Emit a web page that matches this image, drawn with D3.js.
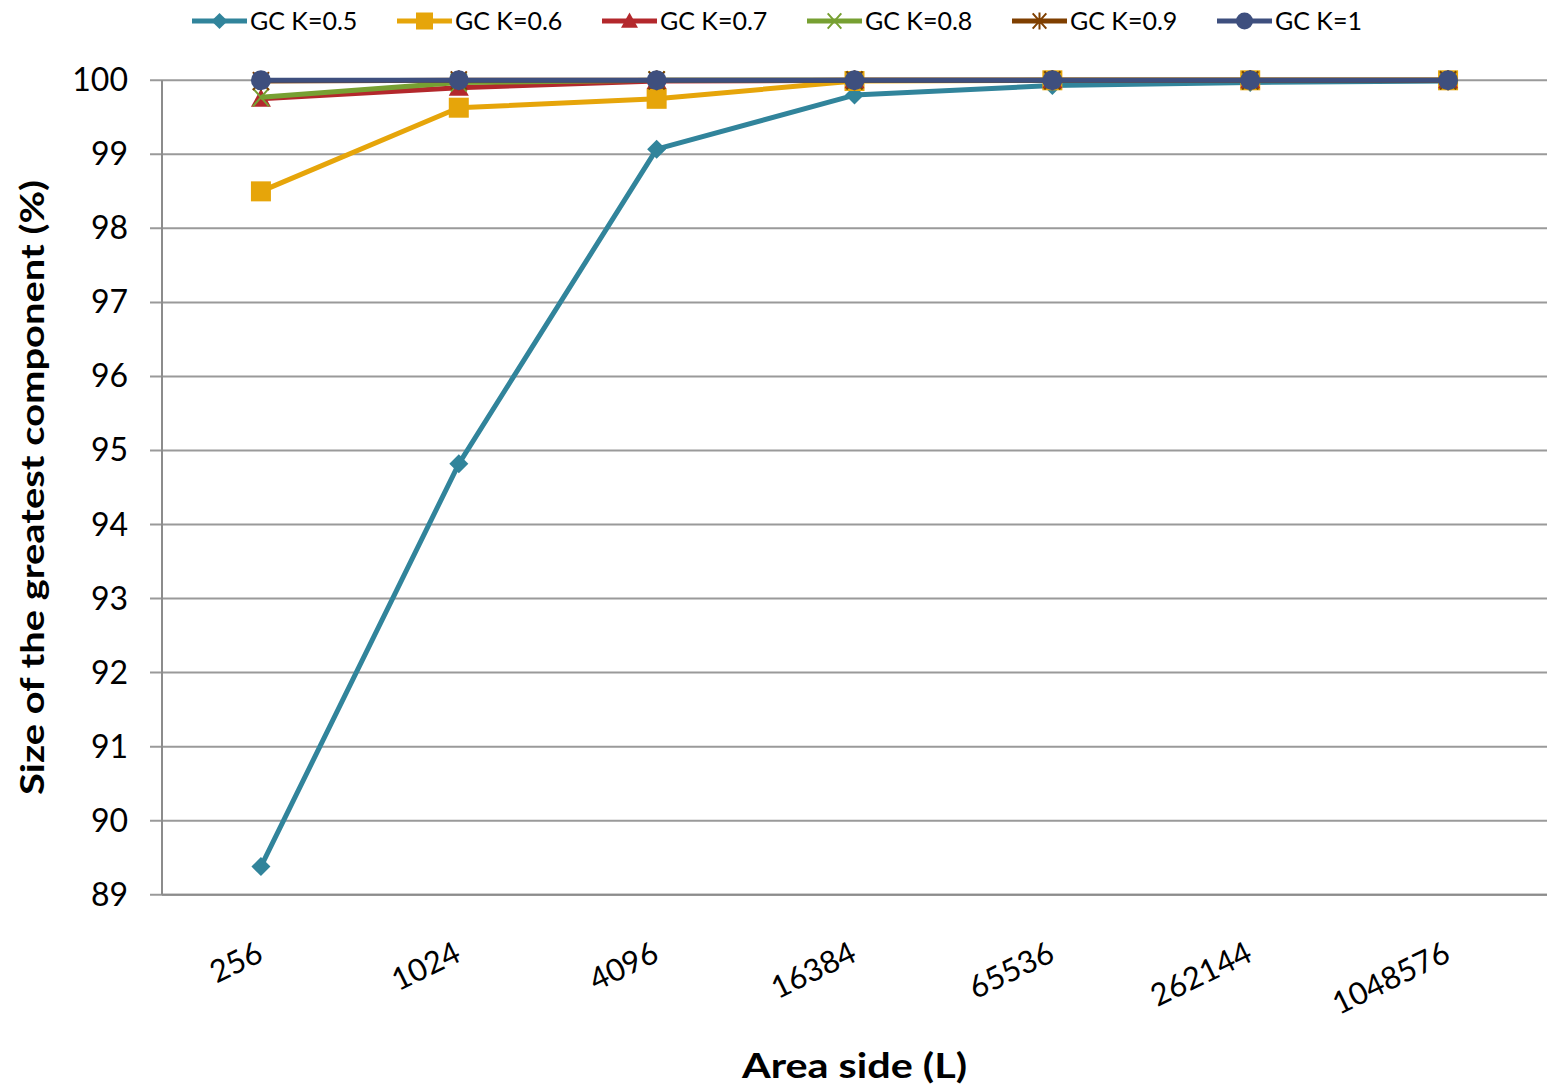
<!DOCTYPE html>
<html><head><meta charset="utf-8">
<script src="https://cdn.jsdelivr.net/npm/d3@7"></script>
<style>body{margin:0;background:#fff}svg{display:block}text{font-family:Lato,"Open Sans",sans-serif}</style>
</head><body><svg id="c" width="1547" height="1087"></svg>
<script>
const categories = ["256","1024","4096","16384","65536","262144","1048576"];
const seriesNames = ["GC K=0.5","GC K=0.6","GC K=0.7","GC K=0.8","GC K=0.9","GC K=1"];
const k05 = [89.38, 94.82, 99.07, 99.8, 99.93, 99.97, 99.99];
const k06 = [98.5, 99.63, 99.75, 99.99, 100, 100, 100];
const k07 = [99.75, 99.9, 99.99, 100, 100, 100, 100];
const k08 = [99.77, 99.97, 100, 100, 100, 100, 100];
const k09 = [99.99, 100, 100, 100, 100, 100, 100];
const k1 = [100, 100, 100, 100, 100, 100, 100];
const yTicks = [89,90,91,92,93,94,95,96,97,98,99,100];
const colors = ["#31849B","#E6A50A","#B3282C","#77A032","#7F3F00","#3E4F7E"];
const markers = ["diamond","square","triangle","x","star","circle"];
const seriesData = [k05,k06,k07,k08,k09,k1];

const svg = d3.select("#c");
const L=162, R=1547, T=80.3, B=894.7;
const x = d3.scaleBand().domain(categories).range([L,R]);
const y = d3.scaleLinear().domain([89,100]).range([B,T]);

svg.append("g").selectAll("line").data(yTicks).join("line")
  .attr("x1",150).attr("x2",R).attr("y1",d=>y(d)).attr("y2",d=>y(d))
  .attr("stroke","#9a9a9a").attr("stroke-width",2);
svg.append("line").attr("x1",L).attr("x2",L).attr("y1",T).attr("y2",B).attr("stroke","#8c8c8c").attr("stroke-width",2);
svg.append("line").attr("x1",L).attr("x2",R).attr("y1",B).attr("y2",B).attr("stroke","#8c8c8c").attr("stroke-width",2);

svg.append("g").selectAll("text").data(yTicks).join("text")
  .attr("x",128).attr("y",d=>y(d)+11).attr("text-anchor","end")
  .attr("font-size",32).attr("fill","#000").text(d=>d);

svg.append("g").selectAll("text").data(categories).join("text")
  .attr("transform",d=>`translate(${x(d)+x.bandwidth()/2+4},${960}) rotate(-26)`)
  .attr("text-anchor","end").attr("font-size",31).attr("fill","#000").text(d=>d);

svg.append("text").attr("x",742).attr("y",1078)
  .attr("font-size",34).attr("font-weight","bold")
  .attr("textLength",225).attr("lengthAdjust","spacingAndGlyphs").text("Area side (L)");
svg.append("text").attr("transform","translate(44,795) rotate(-90)")
  .attr("font-size",33).attr("font-weight","bold")
  .attr("textLength",615).attr("lengthAdjust","spacingAndGlyphs").text("Size of the greatest component (%)");

function drawMarker(g, type, color, cx, cy, scale){
  const s = scale||1;
  if(type==="diamond"){
    g.append("path").attr("d",`M${cx},${cy-9.5*s}L${cx+9.5*s},${cy}L${cx},${cy+9.5*s}L${cx-9.5*s},${cy}Z`).attr("fill",color);
  } else if(type==="square"){
    g.append("rect").attr("x",cx-10*s).attr("y",cy-10*s).attr("width",20*s).attr("height",20*s).attr("fill",color);
  } else if(type==="triangle"){
    g.append("path").attr("d",`M${cx},${cy-10*s}L${cx+10*s},${cy+8*s}L${cx-10*s},${cy+8*s}Z`).attr("fill",color);
  } else if(type==="x"){
    g.append("path").attr("d",`M${cx-8*s},${cy-9*s}L${cx+8*s},${cy+9*s}M${cx+8*s},${cy-9*s}L${cx-8*s},${cy+9*s}`).attr("stroke",color).attr("stroke-width",2);
  } else if(type==="star"){
    g.append("path").attr("d",`M${cx-8*s},${cy-9*s}L${cx+8*s},${cy+9*s}M${cx+8*s},${cy-9*s}L${cx-8*s},${cy+9*s}M${cx},${cy-10*s}L${cx},${cy+10*s}`).attr("stroke",color).attr("stroke-width",2);
  } else {
    g.append("circle").attr("cx",cx).attr("cy",cy).attr("r",10*s).attr("fill",color);
  }
}

const line = d3.line().x((d,i)=>x(categories[i])+x.bandwidth()/2).y(d=>y(d));
seriesData.forEach((vals,si)=>{
  const g = svg.append("g");
  g.append("path").datum(vals).attr("d",line).attr("fill","none")
    .attr("stroke",colors[si]).attr("stroke-width",5).attr("stroke-linejoin","round");
  vals.forEach((v,i)=>drawMarker(g, markers[si], colors[si], x(categories[i])+x.bandwidth()/2, y(v)));
});

const lg = svg.append("g");
seriesNames.forEach((n,i)=>{
  const x0 = 192 + i*205, yy = 21;
  lg.append("line").attr("x1",x0).attr("x2",x0+55).attr("y1",yy).attr("y2",yy)
    .attr("stroke",colors[i]).attr("stroke-width",5);
  drawMarker(lg, markers[i], colors[i], x0+27.5, yy, 0.85);
  lg.append("text").attr("x",x0+58).attr("y",yy+9).attr("font-size",25).attr("fill","#000").text(n);
});
</script></body></html>
